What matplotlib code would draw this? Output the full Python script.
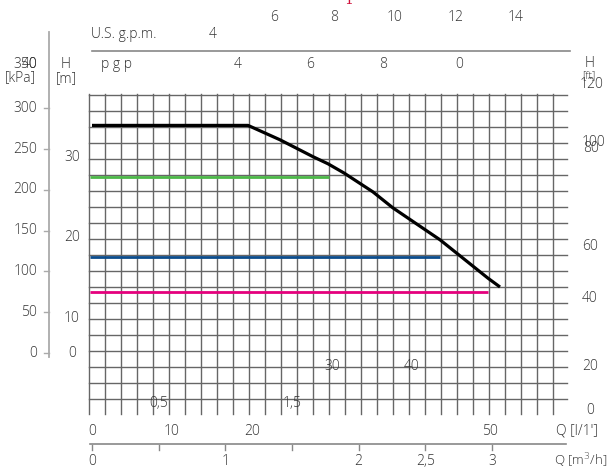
import matplotlib
matplotlib.use("Agg")
import matplotlib.pyplot as plt
import numpy as np

plt.rcParams['font.family'] = ['Open Sans', 'DejaVu Sans']
plt.rcParams['font.weight'] = 'light'

W, H = 610, 469

# ---------------- data (Q in l/min, H in m) ----------------
black_q = [0, 19.5, 23.5, 27.6, 29.5, 31.5, 35.1, 37.6, 43.5, 49.5, 51.0]
black_h = [34.2, 34.2, 32.4, 30.3, 29.4, 28.25, 25.9, 23.9, 19.9, 15.1, 14.0]
green_q = [-0.3, 29.6]
green_h = [27.8, 27.8]
blue_q = [-0.3, 43.5]
blue_h = [17.8, 17.8]
magenta_q = [-0.3, 49.5]
magenta_h = [13.4, 13.4]

m3h_ticks = [0, 0.5, 1, 1.5, 2, 2.5, 3]
m3h_labels = ["0", "1", "2", "2,5", "3"]
m3h_label_vals = [0, 1, 2, 2.5, 3]
lmin_labels_row = ["0", "10", "20"]
lmin_inside = ["30", "40"]
m3h_inside = ["0,5", "1,5"]
kpa_ticks = [0, 50, 100, 150, 200, 250, 300]
usgpm_vals = [6, 8, 10, 12, 14]
impgpm_vals = [4, 6, 8]
m_labels = ["30", "20", "10"]
ft_labels = ["60", "40", "20", "0"]

# ---------------- figure / axes ----------------
fig = plt.figure(figsize=(W / 100, H / 100), dpi=100)
ax = fig.add_axes([0, 0, 1, 1])
# pixel mapping: x_px = 92 + 8*q ; y_px = 399 - 8*h
ax.set_xlim((0 - 92) / 8, (W - 92) / 8)
ax.set_ylim((399 - H) / 8, (399 - 0) / 8)
ax.axis("off")

def fx(px):
    return (px - 92) / 8

def fy(py):
    return (399 - py) / 8

grid_c = "#666666"
# grid
for k in range(30):
    q = -0.33 + 2 * k
    ax.plot([q, q], [fy(94), fy(414)], color=grid_c, lw=1.0, zorder=1)
for k in range(20):
    h = 2 * k
    ax.plot([fx(89), fx(567)], [h, h], color=grid_c, lw=1.0, zorder=1)

# curves
ax.plot(green_q, green_h, color="#4cb848", lw=2.0, zorder=3, solid_capstyle="butt")
ax.plot(blue_q, blue_h, color="#0b4c8c", lw=2.0, zorder=3, solid_capstyle="butt")
ax.plot(magenta_q, magenta_h, color="#e5007d", lw=2.0, zorder=3, solid_capstyle="butt")
ax.plot(black_q, black_h, color="black", lw=2.3, zorder=4, solid_capstyle="butt")

tc = "#333333"
fs = 10

def ptext(px, py, s, ha="center", va="center", **kw):
    kw.setdefault("fontsize", fs)
    kw.setdefault("color", tc)
    ax.text(fx(px), fy(py), s, ha=ha, va=va, **kw)

# m3/h axis line and ticks
axis_c = "#888888"
ax.plot([fx(90), fx(566)], [fy(444), fy(444)], color=axis_c, lw=1.2)
for t in m3h_ticks:
    q = t * 1000 / 60
    ax.plot([q, q], [fy(445), fy(450)], color=axis_c, lw=1.0)
for v, s in zip(m3h_label_vals, m3h_labels):
    ax.text(v * 1000 / 60, fy(461), s, ha="center", va="center", fontsize=fs, color=tc)
ptext(607, 461, "Q [m$^3$/h]", ha="right", fontsize=9.5)

# l/min labels
for s in lmin_labels_row:
    ax.text(float(s), fy(431), s, ha="center", va="center", fontsize=fs, color=tc)
ax.text(50 - 0.2, fy(431), "50", ha="center", va="center", fontsize=fs, color=tc)
ptext(577, 431, "Q [l/1']")
for s in lmin_inside:
    ax.text(float(s), fy(366), s, ha="center", va="center", fontsize=fs, color=tc,
            zorder=5)
for s in m3h_inside:
    ax.text(float(s.replace(",", ".")) * 1000 / 60, fy(403), s, ha="center",
            va="center", fontsize=fs, color=tc, zorder=5)

# left kPa axis
ax.plot([fx(49), fx(49)], [fy(32), fy(357)], color="#aaaaaa", lw=1.3)
for k in kpa_ticks:
    h = 5.75 + k / 9.81
    ax.plot([fx(44), fx(49)], [h, h], color="#aaaaaa", lw=1.0)
    ax.text(fx(37), h, str(k), ha="right", va="center", fontsize=fs, color=tc)
ptext(37, 64, "350", ha="right")
ptext(37, 64, "40", ha="right")
ptext(20, 78, "[kPa]")
ptext(66, 64, "H")
ptext(66, 79, "[m]")

# H [m] labels
for s, py in zip(m_labels, [157, 237, 318]):
    ptext(72, py, s)
ptext(72, 353, "0")

# right ft labels
ptext(590, 63, "H")
ptext(592, 84, "120")
ptext(589, 76, "[ft]", fontsize=7.5)
ptext(593, 142, "100")
ptext(591, 148, "80")
for s, py in zip(ft_labels, [246, 298, 366, 410]):
    ptext(590, py, s)

# top gpm axes
ax.plot([fx(92), fx(570)], [fy(51), fy(51)], color="#888888", lw=1.2)
ptext(91, 34, "U.S. g.p.m.", ha="left")
ax.text(4 * 3.785, fy(34), "4", ha="center", va="center", fontsize=fs, color=tc)
for g in usgpm_vals:
    ax.text(g * 3.785, fy(17), str(g), ha="center", va="center", fontsize=fs, color=tc)
ptext(101, 64, "p g p", ha="left")
for g in impgpm_vals:
    ax.text(g * 4.546, fy(64), str(g), ha="center", va="center", fontsize=fs, color=tc)
ax.text(10 * 4.546 + 0.4, fy(64), "0", ha="center", va="center", fontsize=fs, color=tc)

# cut-off red glyph at top
ax.text(fx(349), fy(4), "1", ha="center", va="baseline", fontsize=10,
        color="#d0103a", family="DejaVu Serif")

fig.savefig("out.png", dpi=100)
